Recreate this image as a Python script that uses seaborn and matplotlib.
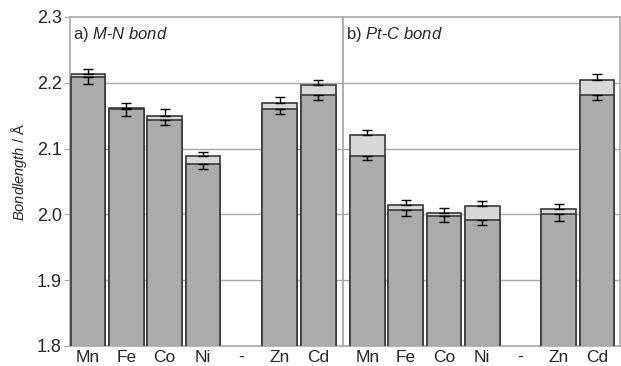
import numpy as np
import pandas as pd
import seaborn as sns
import matplotlib.pyplot as plt

# categories (the '-' slot is an empty placeholder)
metals = ['Mn', 'Fe', 'Co', 'Ni', '-', 'Zn', 'Cd']

# a) M-N bond
mn_light = [2.214, 2.161, 2.150, 2.088, np.nan, 2.169, 2.196]
mn_dark = [2.209, 2.160, 2.143, 2.077, np.nan, 2.160, 2.181]
mn_err_up = [0.007, 0.008, 0.010, 0.007, np.nan, 0.009, 0.009]
mn_err_dn = [0.011, 0.010, 0.007, 0.008, np.nan, 0.008, 0.007]

# b) Pt-C bond
ptc_light = [2.121, 2.015, 2.002, 2.013, np.nan, 2.008, 2.205]
ptc_dark = [2.089, 2.006, 1.997, 1.992, np.nan, 2.000, 2.181]
ptc_err_up = [0.008, 0.007, 0.007, 0.007, np.nan, 0.008, 0.008]
ptc_err_dn = [0.007, 0.009, 0.009, 0.008, np.nan, 0.010, 0.007]

DARK = '#ababab'
LIGHT = '#d8d8d8'
EDGE = '#3a3a3a'
GRID = '#a8a8a8'

sns.set_style('white')
plt.rcParams['font.family'] = ['Liberation Sans', 'DejaVu Sans']
plt.rcParams['mathtext.fontset'] = 'custom'
plt.rcParams['mathtext.rm'] = 'Liberation Sans'
plt.rcParams['mathtext.it'] = 'Liberation Sans:italic'


def draw_panel(ax, light, dark, err_up, err_dn, title, xlim):
    df = pd.DataFrame({'metal': metals, 'light': light, 'dark': dark})
    sns.barplot(data=df, x='metal', y='light', order=metals, color=LIGHT, saturation=1,
                width=0.91, edgecolor=EDGE, linewidth=1.2, errorbar=None, ax=ax, zorder=2)
    sns.barplot(data=df, x='metal', y='dark', order=metals, color=DARK, saturation=1,
                width=0.91, edgecolor=EDGE, linewidth=1.2, errorbar=None, ax=ax, zorder=3)
    x = np.arange(len(metals))
    zeros = np.zeros(len(metals))
    ax.errorbar(x, light, yerr=[zeros, err_up], fmt='none', ecolor='black',
                elinewidth=1, capsize=3.5, capthick=1, zorder=4)
    ax.errorbar(x, dark, yerr=[err_dn, zeros], fmt='none', ecolor='black',
                elinewidth=1, capsize=3.5, capthick=1, zorder=4)

    for yv in [1.9, 2.0, 2.1, 2.2]:
        ax.axhline(yv, color=GRID, lw=1, zorder=1)
    ax.set_xlim(*xlim)
    ax.set_ylim(1.8, 2.3)
    ax.set_xlabel('')
    ax.set_ylabel('')
    for s in ax.spines.values():
        s.set_color(GRID)
        s.set_linewidth(1.2)
    ax.tick_params(axis='x', length=0, labelsize=12.5, pad=3)
    ax.text(0.01, 0.975, title, transform=ax.transAxes, ha='left', va='top', fontsize=12)


fig, (ax1, ax2) = plt.subplots(1, 2, sharey=True, figsize=(6.21, 3.66), dpi=100,
                               gridspec_kw={'width_ratios': [273, 277], 'wspace': 0})
fig.subplots_adjust(left=70 / 621, right=620 / 621, top=1 - 17 / 366, bottom=1 - 346 / 366)

draw_panel(ax1, mn_light, mn_dark, mn_err_up, mn_err_dn,
           r'a) $\mathit{M}$-$\mathit{N\ bond}$', (-0.47, 6.65))
draw_panel(ax2, ptc_light, ptc_dark, ptc_err_up, ptc_err_dn,
           r'b) $\mathit{Pt}$-$\mathit{C\ bond}$', (-0.64, 6.6))

ax1.set_yticks([1.8, 1.9, 2.0, 2.1, 2.2, 2.3])
ax1.set_yticklabels(['1.8', '1.9', '2.0', '2.1', '2.2', '2.3'])
ax1.tick_params(axis='y', length=4, color=GRID, labelsize=13, pad=2, left=True)
ax2.tick_params(axis='y', length=0)

ax1.set_ylabel(r'$\mathit{Bondlength}$ / Å', fontsize=10.5)
ax1.yaxis.set_label_coords(-0.152, 0.53)

fig.savefig('out.png', dpi=100)
